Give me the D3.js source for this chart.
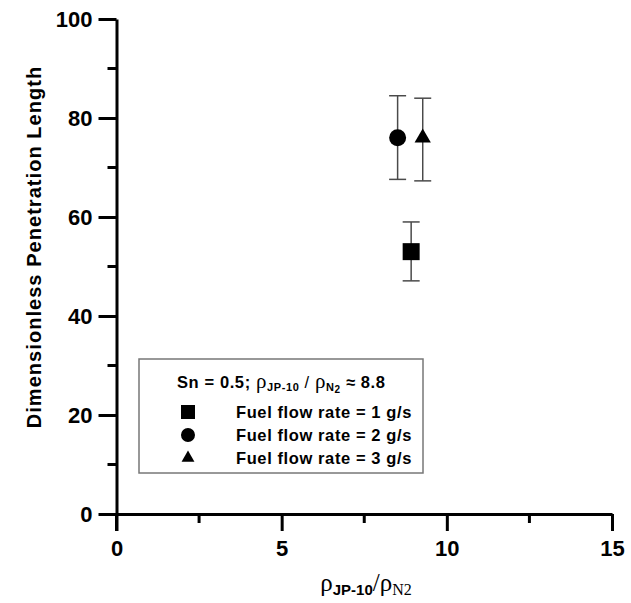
<!DOCTYPE html>
<html>
<head>
<meta charset="utf-8">
<script src="https://cdn.jsdelivr.net/npm/d3@7"></script>
<style>
  html, body { margin: 0; padding: 0; background: #fff; }
  svg { display: block; }
  text { font-family: "Liberation Sans", Arial, sans-serif; font-weight: bold; fill: #000; }
</style>
</head>
<body>
<svg id="chart" width="631" height="603"></svg>
<script>
// Density ratio (x), mean penetration length (y), error bar limits
const seriesNames = ["Fuel flow rate = 1 g/s", "Fuel flow rate = 2 g/s", "Fuel flow rate = 3 g/s"];
const seriesSymbols = ["square", "circle", "triangle"];
const xValues = [8.92, 8.51, 9.27];
const yValues = [53.0, 76.0, 76.0];
const yLow = [47.1, 67.6, 67.3];
const yHigh = [59.0, 84.5, 84.0];

const xTicks = [0, 5, 10, 15];
const xMinorTicks = [2.5, 7.5, 12.5];
const yTicks = [0, 20, 40, 60, 80, 100];
const yMinorTicks = [10, 30, 50, 70, 90];

const serif = "Liberation Serif, Times New Roman, serif";
const svg = d3.select("#chart");
const x = d3.scaleLinear().domain([0, 15]).range([116.5, 612]);
const y = d3.scaleLinear().domain([0, 100]).range([514, 19]);

// Axes
const axisG = svg.append("g");
const xAxis = axisG.append("g").attr("transform", `translate(0,${y(0)})`)
  .call(d3.axisBottom(x).tickValues(xTicks).tickSize(17).tickPadding(6).tickSizeOuter(0));
const yAxis = axisG.append("g").attr("transform", `translate(${x(0)},0)`)
  .call(d3.axisLeft(y).tickValues(yTicks).tickSize(18).tickPadding(6).tickSizeOuter(0));
[xAxis, yAxis].forEach(a => {
  a.select(".domain").attr("stroke", "#000").attr("stroke-width", 3);
  a.selectAll(".tick line").attr("stroke", "#000").attr("stroke-width", 3);
  a.selectAll(".tick text").style("font-size", "22px").style("font-weight", "bold")
    .style("font-family", "Liberation Sans, Arial, sans-serif").attr("fill", "#000");
});
xAxis.selectAll(".tick text").attr("dy", "0.86em");
yAxis.selectAll(".tick text").attr("dy", "0.36em");
// y axis line continues through the x axis down to the 0 tick
axisG.append("line").attr("x1", x(0)).attr("x2", x(0)).attr("y1", y(0)).attr("y2", y(0) + 17)
  .attr("stroke", "#000").attr("stroke-width", 3);

// Minor ticks
axisG.selectAll(".xminor").data(xMinorTicks).join("line")
  .attr("x1", d => x(d)).attr("x2", d => x(d))
  .attr("y1", y(0)).attr("y2", y(0) + 9)
  .attr("stroke", "#000").attr("stroke-width", 3);
axisG.selectAll(".yminor").data(yMinorTicks).join("line")
  .attr("x1", x(0) - 9).attr("x2", x(0))
  .attr("y1", d => y(d)).attr("y2", d => y(d))
  .attr("stroke", "#000").attr("stroke-width", 3);

// Axis titles
svg.append("text")
  .attr("transform", `translate(41,247) rotate(-90)`)
  .attr("text-anchor", "middle")
  .style("font-size", "20px")
  .style("letter-spacing", "1.05px")
  .text("Dimensionless Penetration Length");

const xt = svg.append("text").attr("x", 366).attr("y", 591).attr("text-anchor", "middle");
xt.append("tspan").style("font-family", serif).style("font-weight", "normal").style("font-size", "25px").text("ρ");
xt.append("tspan").attr("dy", 4).style("font-size", "15px").text("JP-10");
xt.append("tspan").attr("dy", -4).style("font-family", serif).style("font-weight", "normal").style("font-size", "25px").text("/ρ");
xt.append("tspan").attr("dy", 4).style("font-family", serif).style("font-weight", "normal").style("font-size", "16px").text("N2");

// Data symbols with error bars
const symbolType = { square: d3.symbolSquare, circle: d3.symbolCircle, triangle: d3.symbolTriangle };
const symbolSize = { square: 289, circle: 227, triangle: 115 };

const data = xValues.map((v, i) => ({
  x: v, y: yValues[i], lo: yLow[i], hi: yHigh[i], sym: seriesSymbols[i], name: seriesNames[i]
}));

const pts = svg.append("g");
const capW = 8.5;
data.forEach(d => {
  const g = pts.append("g");
  g.append("line").attr("x1", x(d.x)).attr("x2", x(d.x)).attr("y1", y(d.lo)).attr("y2", y(d.hi))
    .attr("stroke", "#4a4a4a").attr("stroke-width", 1.5);
  [d.lo, d.hi].forEach(v => g.append("line")
    .attr("x1", x(d.x) - capW).attr("x2", x(d.x) + capW).attr("y1", y(v)).attr("y2", y(v))
    .attr("stroke", "#4a4a4a").attr("stroke-width", 1.5));
  g.append("path")
    .attr("d", d3.symbol().type(symbolType[d.sym]).size(symbolSize[d.sym])())
    .attr("transform", `translate(${x(d.x)},${y(d.y)})`)
    .attr("fill", "#000");
});

// Legend
const leg = svg.append("g");
leg.append("rect").attr("x", 139).attr("y", 359).attr("width", 284).attr("height", 114)
  .attr("fill", "#fff").attr("stroke", "#777").attr("stroke-width", 1.5);
const lt = leg.append("text").attr("x", 177).attr("y", 388).style("font-size", "16.5px").style("letter-spacing", "0.6px");
lt.append("tspan").text("Sn = 0.5; ");
lt.append("tspan").style("font-family", serif).style("font-weight", "normal").style("font-size", "21px").text("ρ");
lt.append("tspan").attr("dy", 3).style("font-size", "11px").text("JP-10");
lt.append("tspan").attr("dy", -3).style("font-weight", "normal").text(" / ");
lt.append("tspan").style("font-family", serif).style("font-weight", "normal").style("font-size", "21px").text("ρ");
lt.append("tspan").attr("dy", 3).style("font-size", "11px").text("N");
lt.append("tspan").style("font-size", "10px").attr("dy", 2).text("2");
lt.append("tspan").attr("dy", -5).text(" ≈ 8.8");

const legSize = { square: 196, circle: 154, triangle: 72 };
data.forEach((d, i) => {
  const cy = 412 + i * 23;
  leg.append("path")
    .attr("d", d3.symbol().type(symbolType[d.sym]).size(legSize[d.sym])())
    .attr("transform", `translate(188,${cy})`)
    .attr("fill", "#000");
  leg.append("text").attr("x", 236).attr("y", cy + 6)
    .style("font-size", "16.5px").style("letter-spacing", "0.6px").text(d.name);
});
</script>
</body>
</html>
